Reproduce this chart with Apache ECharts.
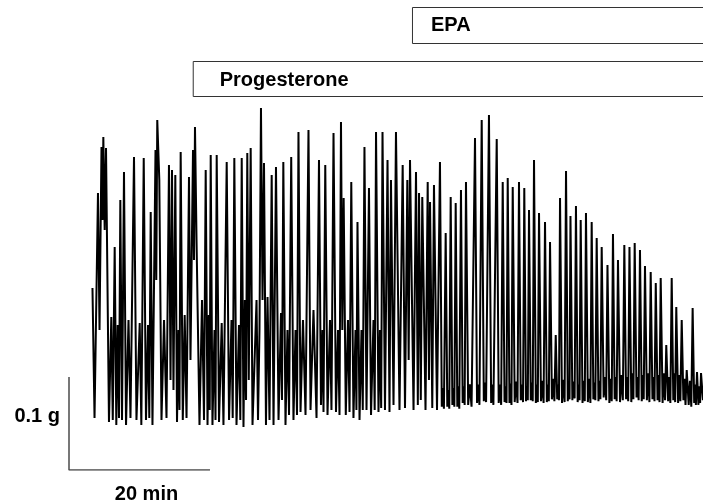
<!DOCTYPE html>
<html><head><meta charset="utf-8">
<script src="https://cdn.jsdelivr.net/npm/echarts@6/dist/echarts.min.js"></script>
<style>html,body{margin:0;padding:0;background:#fff}#c{width:703px;height:504px}</style>
</head><body><div id="c"></div>
<script>
// isometric tension trace: time (min) and force (mg)
const traceTime = [
3.33,3.62,4.11,4.33,4.61,4.75,4.87,5.06,5.25,5.67,
6.00,6.21,6.48,6.71,6.91,7.09,7.28,7.52,7.80,8.09,
8.44,8.72,9.22,9.57,10.03,10.26,10.60,10.92,11.21,11.39,
11.59,11.84,12.27,12.38,12.52,12.81,13.12,13.48,13.83,14.18,
14.40,14.61,14.82,15.08,15.32,15.53,15.67,15.84,16.14,16.41,
16.67,17.02,17.23,17.59,17.73,17.87,18.09,18.51,18.87,19.15,
19.39,19.65,19.83,19.96,20.10,20.35,20.64,20.78,20.95,21.28,
21.66,21.91,22.37,22.70,23.05,23.22,23.45,23.76,24.11,24.30,
24.50,24.75,24.94,25.11,25.29,25.50,25.77,26.03,26.60,26.81,
27.02,27.23,27.45,27.66,27.94,28.16,28.44,28.75,29.01,29.36,
29.72,30.07,30.21,30.40,30.71,30.99,31.21,31.52,31.84,32.13,
32.34,32.55,32.84,33.19,33.55,33.97,34.26,34.68,35.11,35.46,
35.74,35.96,36.10,36.35,36.67,37.02,37.23,37.52,37.87,38.16,
38.37,38.58,38.77,38.96,39.26,39.57,39.79,40.04,40.35,40.64,
40.77,40.92,41.21,41.49,41.67,41.91,42.20,42.55,42.84,43.19,
43.36,43.55,43.90,44.11,44.28,44.47,44.82,45.18,45.46,45.67,
46.03,46.38,46.88,47.33,47.66,47.99,48.18,48.37,48.87,49.22,
49.48,49.65,49.90,50.11,50.57,50.88,51.06,51.21,51.53,51.77,
52.20,52.62,52.88,53.02,53.18,53.43,53.66,53.80,53.94,54.14,
54.38,54.52,54.66,54.85,55.08,55.22,55.36,55.60,55.84,55.98,
56.12,56.31,56.62,56.85,57.10,57.59,57.88,58.05,58.22,58.54,
58.84,59.00,59.16,59.57,59.88,60.04,60.20,60.67,
60.95,61.12,61.30,61.52,
61.78,61.92,62.06,62.23,
62.48,62.62,62.76,62.94,
63.22,63.42,63.62,63.83,
64.08,64.24,64.40,64.58,
64.82,64.96,65.08,65.25,
65.50,65.64,65.78,65.96,
66.22,66.36,66.50,66.67,
66.95,67.13,67.32,67.52,
67.78,67.92,68.06,68.23,
68.50,68.68,68.85,69.04,
69.25,69.38,69.50,69.65,
69.93,70.12,70.30,70.50,
70.75,70.88,71.00,71.13,
71.40,71.56,71.72,71.91,
72.15,72.28,72.42,72.58,
72.84,73.00,73.16,73.33,
73.60,73.78,73.96,74.14,
74.38,74.52,74.66,74.85,
75.10,75.24,75.38,75.56,
75.84,76.02,76.20,76.38,
76.65,76.82,76.98,77.16,
77.40,77.54,77.68,77.87,
78.16,78.36,78.56,78.77,
79.02,79.17,79.32,79.50,
79.76,79.92,80.06,80.24,
80.50,80.65,80.80,80.99,
81.24,81.38,81.52,81.70,
81.97,82.16,82.33,82.51,
82.76,82.90,83.05,83.23,
83.48,83.62,83.76,83.93,
84.20,84.38,84.55,84.72,
84.98,85.14,85.30,85.49,
85.72,85.85,85.98,86.14,
86.40,86.56,86.72,86.91,
87.15,87.30,87.45,87.62,
87.90,88.08,88.27,88.46,
88.68,88.80,88.92,89.08,
89.28,89.40,89.52,89.65,
89.93
];
const traceForce = [
195.7,55.9,297.8,150.5,347.3,268.8,358.1,258.1,346.2,51.6,
164.5,53.8,239.8,48.4,155.9,55.9,290.3,53.8,320.4,48.4,
161.3,55.9,336.6,53.8,158.1,48.4,335.5,53.8,155.9,55.9,
277.4,48.4,344.1,204.3,376.3,311.8,53.8,161.3,55.9,328.0,
96.8,322.6,86.0,317.2,51.6,150.5,64.5,341.9,53.8,166.7,
55.9,315.1,118.3,344.1,225.8,368.8,247.3,48.4,182.8,53.8,
322.6,48.4,166.7,64.5,338.7,48.4,150.5,53.8,338.7,51.6,
158.1,48.4,331.2,53.8,161.3,55.9,335.5,48.4,155.9,53.8,
335.5,46.2,182.8,75.3,340.9,96.8,346.2,48.4,182.8,53.8,
150.5,389.2,182.8,330.1,48.4,186.0,53.8,317.2,48.4,325.8,
53.8,168.8,75.3,331.2,48.4,150.5,59.1,336.6,53.8,150.5,
59.1,363.4,62.4,161.3,59.1,365.6,64.5,172.0,55.9,333.3,
69.9,150.5,62.4,328.0,59.1,161.3,64.5,362.4,62.4,150.5,
59.1,374.2,150.5,292.5,59.1,161.3,62.4,309.7,55.9,150.5,
64.5,266.7,53.8,150.5,64.5,347.3,64.5,303.2,59.1,161.3,
64.5,363.4,62.4,150.5,66.7,363.4,64.5,333.3,62.4,311.8,
69.9,363.4,64.5,328.0,66.7,311.8,118.3,333.3,64.5,320.4,
69.9,297.8,75.3,293.5,64.5,309.7,96.8,288.2,66.7,306.5,
64.5,331.2,68,88,66,254.8,68,86,66,293.5,
70,88,68,287.1,68,90,66,301.1,72,90,
70,309.7,70,92,68,357.0,72,92,70,376.3,
74,94,73,381.7,72,92,70,355.9,
72,92,70,309.7,
73,90,72,314.0,
72,93,70,304.3,
73,95,72,309.7,
75,92,73,303.2,
74,90,75,279.6,
75,94,74,333.3,
72,92,73,276.3,
74,96,72,266.7,
73,92,74,245.2,
76,98,74,145.2,
76,92,75,292.5,
72,97,73,321.5,
74,90,76,273.1,
75,95,77,283.9,
73,92,75,268.8,
72,96,74,276.3,
73,98,72,266.7,
76,94,75,249.5,
74,96,76,239.8,
78,100,75,220.4,
72,98,74,253.8,
76,100,74,225.8,
73,102,75,241.9,
76,100,74,239.8,
73,104,76,244.1,
78,100,75,236.6,
74,102,76,219.4,
75,104,73,212.9,
76,100,74,201.1,
75,102,73,206.5,
72,104,75,134.4,
74,100,72,206.5,
75,104,73,175.3,
72,102,74,161.3,
75,98,70,107.5,
70,96,68,174.2,
72,92,70,105.4,
70,90,72,104.3,
75
];
// scale bar (0.1 g vertical, 20 min horizontal)
const scaleBarTime = [0, 0, 20];
const scaleBarForce = [100, 0, 0];
const scaleLabels = ['0.1 g', '20 min'];
// treatment bars
const treatmentNames = ['Progesterone', 'EPA'];
const treatmentStart = [17.55, 48.65];

const traceData = traceTime.map((t, i) => [t, traceForce[i]]);
const scaleData = scaleBarTime.map((t, i) => [t, scaleBarForce[i]]);

const chart = echarts.init(document.getElementById('c'), null, {renderer: 'canvas'});
const FONT = '"Liberation Sans", Arial, Helvetica, sans-serif';
chart.setOption({
  animation: false,
  backgroundColor: '#fff',
  grid: {left: 69, top: 5, width: 634, height: 465, containLabel: false},
  xAxis: {type: 'value', min: 0, max: 89.93, show: false},
  yAxis: {type: 'value', min: 0, max: 500, show: false},
  series: [
    {type: 'line', data: traceData, symbol: 'none', sampling: false,
     lineStyle: {color: '#000', width: 2, join: 'miter', miterLimit: 3}, z: 3, silent: true},
    {type: 'line', data: scaleData, symbol: 'none',
     lineStyle: {color: '#4a4a4a', width: 1.5}, z: 2, silent: true}
  ]
});

const progX = chart.convertToPixel({xAxisIndex: 0}, treatmentStart[0]);
const epaX = chart.convertToPixel({xAxisIndex: 0}, treatmentStart[1]);
const barLeft = chart.convertToPixel({xAxisIndex: 0}, scaleBarTime[0]);
const barMid = chart.convertToPixel({xAxisIndex: 0}, (scaleBarTime[0] + scaleBarTime[2]) / 2);
const barTop = chart.convertToPixel({yAxisIndex: 0}, scaleBarForce[0]);
const barBot = chart.convertToPixel({yAxisIndex: 0}, 0);
const txtStyle = {fill: '#000', font: 'bold 20px ' + FONT};
chart.setOption({
  graphic: [
    {type: 'rect', shape: {x: epaX + 0.5, y: 7.5, width: 400, height: 36},
     style: {fill: '#fff', stroke: '#333', lineWidth: 1}},
    {type: 'text', x: epaX + 19, y: 25.5,
     style: Object.assign({text: treatmentNames[1], textVerticalAlign: 'middle'}, txtStyle)},
    {type: 'rect', shape: {x: progX + 0.5, y: 61.5, width: 600, height: 35},
     style: {fill: '#fff', stroke: '#333', lineWidth: 1}},
    {type: 'text', x: progX + 27, y: 80,
     style: Object.assign({text: treatmentNames[0], textVerticalAlign: 'middle'}, txtStyle)},
    {type: 'text', x: barLeft - 9, y: (barTop + barBot) / 2 - 7,
     style: Object.assign({text: scaleLabels[0], textAlign: 'right', textVerticalAlign: 'middle'}, txtStyle)},
    {type: 'text', x: barMid + 7, y: barBot + 24,
     style: Object.assign({text: scaleLabels[1], textAlign: 'center', textVerticalAlign: 'middle'}, txtStyle)}
  ]
});
</script></body></html>
